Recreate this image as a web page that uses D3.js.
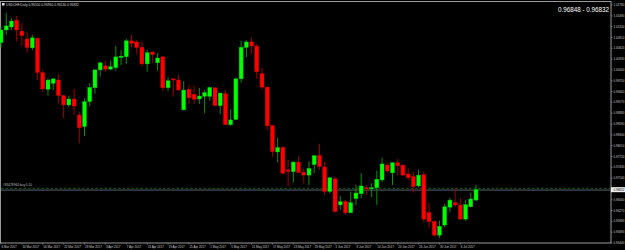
<!DOCTYPE html>
<html>
<head>
<meta charset="utf-8">
<script src="https://cdn.jsdelivr.net/npm/d3@7"></script>
<style>
  html, body { margin: 0; padding: 0; background: #000; }
  svg { display: block; }
  text { font-family: "Liberation Sans", Arial, sans-serif; }
</style>
</head>
<body>
<div id="chart"></div>
<script>
// USDCHF daily bars, 6 Mar 2017 - 11 Jul 2017
const dates = [
  "2017-03-06","2017-03-07","2017-03-08","2017-03-09","2017-03-10","2017-03-13","2017-03-14","2017-03-15","2017-03-16","2017-03-17",
  "2017-03-20","2017-03-21","2017-03-22","2017-03-23","2017-03-24","2017-03-27","2017-03-28","2017-03-29","2017-03-30","2017-03-31",
  "2017-04-03","2017-04-04","2017-04-05","2017-04-06","2017-04-07","2017-04-10","2017-04-11","2017-04-12","2017-04-13","2017-04-14",
  "2017-04-17","2017-04-18","2017-04-19","2017-04-20","2017-04-21","2017-04-24","2017-04-25","2017-04-26","2017-04-27","2017-04-28",
  "2017-05-01","2017-05-02","2017-05-03","2017-05-04","2017-05-05","2017-05-08","2017-05-09","2017-05-10","2017-05-11","2017-05-12",
  "2017-05-15","2017-05-16","2017-05-17","2017-05-18","2017-05-19","2017-05-22","2017-05-23","2017-05-24","2017-05-25","2017-05-26",
  "2017-05-29","2017-05-30","2017-05-31","2017-06-01","2017-06-02","2017-06-05","2017-06-06","2017-06-07","2017-06-08","2017-06-09",
  "2017-06-12","2017-06-13","2017-06-14","2017-06-15","2017-06-16","2017-06-19","2017-06-20","2017-06-21","2017-06-22","2017-06-23",
  "2017-06-26","2017-06-27","2017-06-28","2017-06-29","2017-06-30","2017-07-03","2017-07-04","2017-07-05","2017-07-06","2017-07-07",
  "2017-07-10","2017-07-11"
];

const opens = [
  1.0077,1.0111,1.0119,1.0137,1.0108,1.0087,1.0063,1.0089,0.9997,0.9952,
  0.9968,0.9977,0.9935,0.9910,0.9926,0.9883,0.9852,0.9919,0.9956,1.0004,
  1.0015,1.0006,1.0010,1.0037,1.0039,1.0082,1.0079,1.0065,1.0020,1.0052,
  1.0023,1.0039,0.9956,0.9980,0.9977,0.9897,0.9952,0.9939,0.9926,0.9933,
  0.9933,0.9956,0.9908,0.9940,0.9857,0.9871,0.9980,1.0064,1.0079,1.0068,
  0.9994,0.9958,0.9855,0.9784,0.9796,0.9736,0.9731,0.9757,0.9730,0.9722,
  0.9750,0.9775,0.9744,0.9678,0.9712,0.9642,0.9651,0.9621,0.9659,0.9672,
  0.9688,0.9685,0.9688,0.9709,0.9749,0.9728,0.9755,0.9749,0.9725,0.9718,
  0.9693,0.9723,0.9622,0.9598,0.9561,0.9588,0.9636,0.9648,0.9642,0.9604,
  0.9637,0.9655
];
const highs = [
  1.0120,1.0157,1.0143,1.0149,1.0129,1.0106,1.0098,1.0090,1.0004,0.9981,
  0.9983,0.9993,0.9937,0.9935,0.9953,0.9892,0.9928,0.9968,1.0006,1.0026,
  1.0028,1.0029,1.0068,1.0057,1.0087,1.0098,1.0084,1.0080,1.0057,1.0053,
  1.0049,1.0040,0.9984,0.9981,0.9991,0.9974,0.9964,0.9962,0.9956,0.9950,
  0.9959,0.9957,0.9943,0.9950,0.9899,0.9984,1.0082,1.0084,1.0090,1.0074,
  1.0009,0.9959,0.9856,0.9822,0.9800,0.9763,0.9759,0.9773,0.9740,0.9759,
  0.9776,0.9806,0.9758,0.9718,0.9718,0.9666,0.9655,0.9678,0.9696,0.9727,
  0.9696,0.9700,0.9734,0.9769,0.9755,0.9757,0.9765,0.9750,0.9742,0.9730,
  0.9736,0.9731,0.9648,0.9600,0.9600,0.9645,0.9661,0.9687,0.9660,0.9655,
  0.9675,0.9696
];
const lows = [
  1.0065,1.0098,1.0111,1.0080,1.0068,1.0050,1.0057,0.9977,0.9944,0.9935,
  0.9950,0.9915,0.9874,0.9905,0.9883,0.9807,0.9827,0.9907,0.9940,0.9986,
  0.9999,1.0004,1.0002,1.0017,1.0020,1.0064,1.0046,1.0013,0.9999,1.0022,
  1.0002,0.9948,0.9948,0.9932,0.9948,0.9896,0.9913,0.9913,0.9913,0.9888,
  0.9921,0.9907,0.9885,0.9856,0.9854,0.9870,0.9970,1.0038,1.0046,0.9980,
  0.9952,0.9843,0.9771,0.9756,0.9725,0.9691,0.9702,0.9727,0.9700,0.9695,
  0.9727,0.9736,0.9669,0.9673,0.9622,0.9629,0.9615,0.9620,0.9642,0.9660,
  0.9669,0.9663,0.9642,0.9703,0.9727,0.9695,0.9722,0.9720,0.9709,0.9675,
  0.9689,0.9595,0.9581,0.9557,0.9554,0.9582,0.9622,0.9637,0.9602,0.9600,
  0.9636,0.9653
];
const closes = [
  1.0111,1.0122,1.0135,1.0111,1.0096,1.0064,1.0090,0.9997,0.9953,0.9977,
  0.9980,0.9935,0.9910,0.9926,0.9907,0.9849,0.9919,0.9957,1.0004,1.0023,
  1.0006,1.0013,1.0039,1.0041,1.0082,1.0075,1.0064,1.0020,1.0050,1.0045,
  1.0036,0.9956,0.9975,0.9977,0.9950,0.9950,0.9929,0.9925,0.9934,0.9943,
  0.9957,0.9908,0.9942,0.9857,0.9870,0.9980,1.0065,1.0079,1.0068,0.9999,
  0.9958,0.9854,0.9785,0.9796,0.9727,0.9732,0.9757,0.9729,0.9722,0.9740,
  0.9774,0.9745,0.9678,0.9715,0.9624,0.9651,0.9621,0.9648,0.9674,0.9693,
  0.9685,0.9688,0.9711,0.9752,0.9733,0.9755,0.9747,0.9722,0.9715,0.9691,
  0.9722,0.9604,0.9597,0.9561,0.9585,0.9637,0.9655,0.9642,0.9604,0.9643,
  0.9658,0.96832
];

// price scale labels on the right
const priceTicks = [
  1.01780,1.01490,1.01200,1.00910,1.00620,1.00330,1.00040,0.99750,0.99460,0.99170,
  0.98880,0.98590,0.98300,0.98010,0.97720,0.97430,0.97140,0.96850,0.96560,0.96270,
  0.95980,0.95690,0.95400
];

const bid = 0.96832, ask = 0.96848;
const orderLevel = 0.96850;
const symbolTitle = "USDCHF,Daily";
const orderLabel = "#83478964 buy 0.10";

const width = 625, height = 250;
const plotRight = 611, plotBottom = 243;

let bars = dates.map((d, i) => ({
  date: d, open: opens[i], high: highs[i], low: lows[i], close: closes[i]
}));

const svg = d3.select("#chart").append("svg")
  .attr("width", width)
  .attr("height", height)
  .style("background", "#000");

// Scales
let x = d3.scalePoint()
  .domain(dates)
  .range([1, 1 + (dates.length - 1) * 5.22]);

let y = d3.scaleLinear()
  .domain([priceTicks[priceTicks.length - 1], priceTicks[0]])
  .range([plotBottom, 5]);

const parse = d3.timeParse("%Y-%m-%d");
const fmtDate = d3.timeFormat("%-d %b %Y");

// frame
svg.append("rect")
  .attr("x", 0.5).attr("y", 1.5)
  .attr("width", plotRight - 0.5).attr("height", plotBottom - 1.5)
  .attr("fill", "none")
  .attr("stroke", "#9a9a9a")
  .attr("stroke-width", 1);

// bid line + order line
svg.append("line")
  .attr("x1", 1).attr("x2", plotRight)
  .attr("y1", y(bid) + 0.5).attr("y2", y(bid) + 0.5)
  .attr("stroke", "#6f7a86").attr("stroke-width", 0.8);

svg.append("line")
  .attr("x1", 1).attr("x2", plotRight)
  .attr("y1", y(orderLevel) - 0.6).attr("y2", y(orderLevel) - 0.6)
  .attr("stroke", "#167a16").attr("stroke-width", 0.8)
  .attr("stroke-dasharray", "2.5,2");

svg.append("text")
  .attr("x", 3).attr("y", y(orderLevel) - 3)
  .attr("fill", "#b8b8b8")
  .attr("font-size", 3.2)
  .text(orderLabel);

// candles
let candles = svg.append("g").selectAll("g.bar")
  .data(bars)
  .enter().append("g")
  .attr("class", "bar");

candles.append("line")
  .attr("x1", d => x(d.date)).attr("x2", d => x(d.date))
  .attr("y1", d => y(d.high)).attr("y2", d => y(d.low))
  .attr("stroke", d => d.close >= d.open ? "#0f8f0f" : "#a30000")
  .attr("stroke-width", 1);

candles.append("rect")
  .attr("x", d => x(d.date) - 2)
  .attr("y", d => y(Math.max(d.open, d.close)))
  .attr("width", 4)
  .attr("height", d => Math.max(1, Math.abs(y(d.open) - y(d.close))))
  .attr("fill", d => d.close >= d.open ? "#00ff00" : "#ff0000")
  .attr("stroke", d => d.close >= d.open ? "#00b400" : "#c00000")
  .attr("stroke-width", 0.4);

// price axis
let yAxis = svg.append("g");
yAxis.selectAll("line")
  .data(priceTicks).enter().append("line")
  .attr("x1", plotRight).attr("x2", plotRight + 1.5)
  .attr("y1", d => y(d)).attr("y2", d => y(d))
  .attr("stroke", "#9a9a9a").attr("stroke-width", 0.6);
yAxis.selectAll("text")
  .data(priceTicks).enter().append("text")
  .attr("x", plotRight + 2.5)
  .attr("y", d => y(d) + 1.1)
  .attr("fill", "#c8c8c8")
  .attr("font-size", 3)
  .text(d => d.toFixed(5));

// time axis, a label every 4 bars
let xTicks = dates.filter((d, i) => i % 4 === 0);
let xAxis = svg.append("g");
xAxis.selectAll("line")
  .data(xTicks).enter().append("line")
  .attr("x1", d => x(d)).attr("x2", d => x(d))
  .attr("y1", plotBottom).attr("y2", plotBottom + 1.5)
  .attr("stroke", "#9a9a9a").attr("stroke-width", 0.6);
xAxis.selectAll("text")
  .data(xTicks).enter().append("text")
  .attr("x", d => x(d) + 0.5)
  .attr("y", plotBottom + 5.2)
  .attr("fill", "#c8c8c8")
  .attr("font-size", 3)
  .text(d => fmtDate(parse(d)));

// current bid box on price axis
svg.append("rect")
  .attr("x", plotRight).attr("y", y(bid) - 2.4)
  .attr("width", width - plotRight).attr("height", 5)
  .attr("fill", "#f0f0f0");
svg.append("text")
  .attr("x", plotRight + 2.5).attr("y", y(bid) + 1.2)
  .attr("fill", "#000")
  .attr("font-size", 3)
  .text(bid.toFixed(5));

// title line, top left
let last = bars[bars.length - 1];
svg.append("rect")
  .attr("x", 2).attr("y", 3)
  .attr("width", 2.5).attr("height", 2.5)
  .attr("fill", "#e0e0e0");
svg.append("text")
  .attr("x", 6).attr("y", 6)
  .attr("fill", "#d0d0d0")
  .attr("font-size", 3.3)
  .text(symbolTitle + "  " + [last.open, last.high, last.low, last.close].map(v => v.toFixed(5)).join(" "));

// bid - ask, top right (narrow font, stretched up a bit)
svg.append("text")
  .attr("transform", "translate(558,11.8) scale(1,1.25)")
  .attr("fill", "#ffffff")
  .attr("font-size", 6.3)
  .text(ask.toFixed(5) + " - " + bid.toFixed(5));
</script>
</body>
</html>
